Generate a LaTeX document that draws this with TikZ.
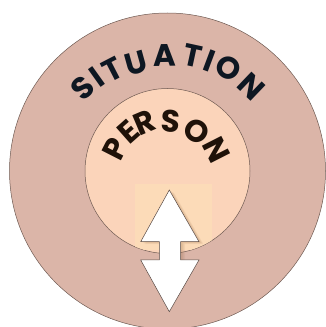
\documentclass[tikz,border=0pt]{standalone}
\usepackage{fontspec}
\newfontfamily\labfont{Poppins}
\definecolor{outerc}{HTML}{DBB5A8}
\definecolor{innerc}{HTML}{FBD4BA}
\definecolor{rectc}{HTML}{FCDBB8}
\definecolor{edgec}{HTML}{6E5A52}
\definecolor{sitc}{HTML}{0E1722}
\definecolor{perc}{HTML}{1F1209}
\definecolor{shadc}{HTML}{9A6A45}
\newcommand{\bigfont}{\labfont\bfseries\fontsize{31pt}{31pt}\selectfont}
\tikzset{
  ring/.style={draw=edgec, line width=0.5pt},
  lett/.style={font=\bigfont, inner sep=0pt, anchor=center},
  arrowbody/.style={fill=white, draw=edgec!80!black, line width=0.5pt, line join=miter}
}
\begin{document}
\begin{tikzpicture}[x=1pt,y=1pt]
\useasboundingbox (0,0) rectangle (326,327);
\node[ring, circle, fill=outerc, minimum size=316pt, inner sep=0pt] (outer) at (167.5,156) {};
\node[ring, circle, fill=innerc, minimum size=165pt, inner sep=0pt] (inner) at (167.5,156) {};
\begin{scope}
  \clip (167.5,156) circle (82.2);
  \fill[rectc] (135,77) rectangle (212,143);
\end{scope}
% shadow
\foreach \i in {1,...,5}{
  \fill[shadc, opacity=0.07] ([shift={(\i*0.9,-\i*0.5)}]169.3,137) -- ([shift={(\i*0.9,-\i*0.5)}]199,85.3) -- ([shift={(\i*0.9,-\i*0.5)}]180.7,85.3) -- ([shift={(\i*0.9,-\i*0.5)}]180.7,67) -- ([shift={(\i*0.9,-\i*0.5)}]159.3,67) -- ([shift={(\i*0.9,-\i*0.5)}]159.3,85.3) -- ([shift={(\i*0.9,-\i*0.5)}]140.7,85.3) -- cycle;
}
\draw[arrowbody] (169.3,137) -- (199,85.3) -- (180.7,85.3) -- (180.7,67) -- (199,67) -- (169.3,15.3) -- (140.7,67) -- (159.3,67) -- (159.3,85.3) -- (140.7,85.3) -- cycle;
% SITUATION
\foreach \l/\a/\r [count=\i] in {S/134/121, I/125.5/120, T/117.3/118.5, U/105.5/116, A/91/120, T/77.8/122, I/69.5/122, O/60/123, N/46.3/121.6}{
  \node[lett, text=sitc, rotate=\a-90] (sit\i) at ([shift={(167,152)}]\a:\r) {\l};
}
% PERSON
\foreach \l/\a/\r [count=\i] in {P/153/58, E/131.5/58, R/113/56.5, S/86/54, O/55.7/53, N/27/55}{
  \node[lett, text=perc, rotate=\a-90] (per\i) at ([shift={(167,152)}]\a:\r) {\l};
}
\end{tikzpicture}
\end{document}
